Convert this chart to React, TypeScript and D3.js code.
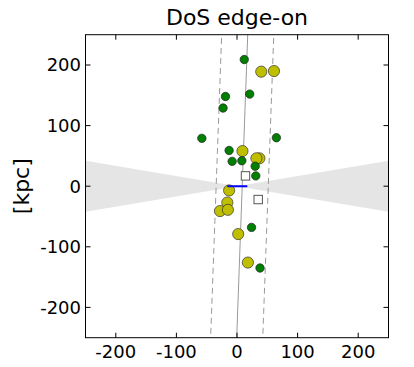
import React from "react";
import * as d3 from "d3";

const title = "DoS edge-on";
const yLabel = "[kpc]";
const ticks = [-200, -100, 0, 100, 200];
const domain = [-250, 250];

const yellowX = [40, 61, 9, 37, 32, -13, -16, -28, -15, 2, 18];
const yellowY = [189, 190, 58, 46, 46, -7, -27, -41, -39, -79, -126];

const greenX = [12, 21, -19, -23, -58, 65, -13, -8, 8, 30, 31, 24, 38];
const greenY = [209, 152, 148, 129, 79, 80, 59, 41, 42, 33, 17, -68, -135];

const squareX = [14, 35];
const squareY = [17, -22];

// plane fit: x = x0 + slope*y, with +/- width
const planeX0 = 8.6;
const planeSlope = 0.0364;
const planeWidth = 43;
// wedge half-height at |x|=250
const wedgeHalf = 42;
// short blue segment
const blueX = [-16, 17];
const blueY = [0, 0];

export default function App() {
  const W = 414, H = 367;
  const left = 85.5, top = 34.7, size = 303;
  const x = d3.scaleLinear().domain(domain).range([left, left + size]);
  const y = d3.scaleLinear().domain(domain).range([top + size, top]);
  const font = "DejaVu Sans, sans-serif";

  const wedgeL = `M${x(0)},${y(0)}L${x(-250)},${y(wedgeHalf)}L${x(-250)},${y(-wedgeHalf)}Z`;
  const wedgeR = `M${x(0)},${y(0)}L${x(250)},${y(wedgeHalf)}L${x(250)},${y(-wedgeHalf)}Z`;

  const lineAt = (off: number) => {
    const y1 = -260, y2 = 260;
    return {
      x1: x(planeX0 + off + planeSlope * y1),
      y1: y(y1),
      x2: x(planeX0 + off + planeSlope * y2),
      y2: y(y2),
    };
  };
  const c = lineAt(0), l = lineAt(-planeWidth), r = lineAt(planeWidth);
  const sq = 8.4;

  return (
    <svg width={W} height={H} style={{ position: "absolute", left: 0, top: 0 }}>
      <defs>
        <clipPath id="plot">
          <rect x={left} y={top} width={size} height={size} />
        </clipPath>
      </defs>
      <rect x={0} y={0} width={W} height={H} fill="#fff" />
      <g clipPath="url(#plot)">
        <path d={wedgeL} fill="#e5e5e5" />
        <path d={wedgeR} fill="#e5e5e5" />
        <line {...c} stroke="#999" strokeWidth={1} />
        <line {...l} stroke="#999" strokeWidth={1} strokeDasharray="6,4" />
        <line {...r} stroke="#999" strokeWidth={1} strokeDasharray="6,4" />
        {yellowX.map((v, i) => (
          <circle key={"y" + i} cx={x(v)} cy={y(yellowY[i])} r={5.6} fill="#bfbf00" stroke="#333" strokeWidth={0.7} />
        ))}
        {greenX.map((v, i) => (
          <circle key={"g" + i} cx={x(v)} cy={y(greenY[i])} r={4.2} fill="#008000" stroke="#222" strokeWidth={0.7} />
        ))}
        {squareX.map((v, i) => (
          <rect key={"s" + i} x={x(v) - sq / 2} y={y(squareY[i]) - sq / 2} width={sq} height={sq} fill="#fff" stroke="#555" strokeWidth={1} />
        ))}
        <line x1={x(blueX[0])} y1={y(blueY[0])} x2={x(blueX[1])} y2={y(blueY[1])} stroke="#0000ff" strokeWidth={2} />
      </g>
      <rect x={left} y={top} width={size} height={size} fill="none" stroke="#000" strokeWidth={1} />
      {ticks.map((t) => (
        <g key={"t" + t} stroke="#000" strokeWidth={1}>
          <line x1={x(t)} x2={x(t)} y1={top + size} y2={top + size - 5} />
          <line x1={x(t)} x2={x(t)} y1={top} y2={top + 5} />
          <line x1={left} x2={left + 5} y1={y(t)} y2={y(t)} />
          <line x1={left + size} x2={left + size - 5} y1={y(t)} y2={y(t)} />
        </g>
      ))}
      {ticks.map((t) => (
        <text key={"xl" + t} x={x(t)} y={358} textAnchor="middle" fontFamily={font} fontSize={18} fill="#000">
          {t}
        </text>
      ))}
      {ticks.map((t) => (
        <text key={"yl" + t} x={81} y={y(t)} dy="0.36em" textAnchor="end" fontFamily={font} fontSize={18} fill="#000">
          {t}
        </text>
      ))}
      <text x={x(0)} y={24.5} textAnchor="middle" fontFamily={font} fontSize={22} fill="#000">
        {title}
      </text>
      <text transform={`translate(29,${y(0)}) rotate(-90)`} textAnchor="middle" fontFamily={font} fontSize={22} fill="#000">
        {yLabel}
      </text>
    </svg>
  );
}
